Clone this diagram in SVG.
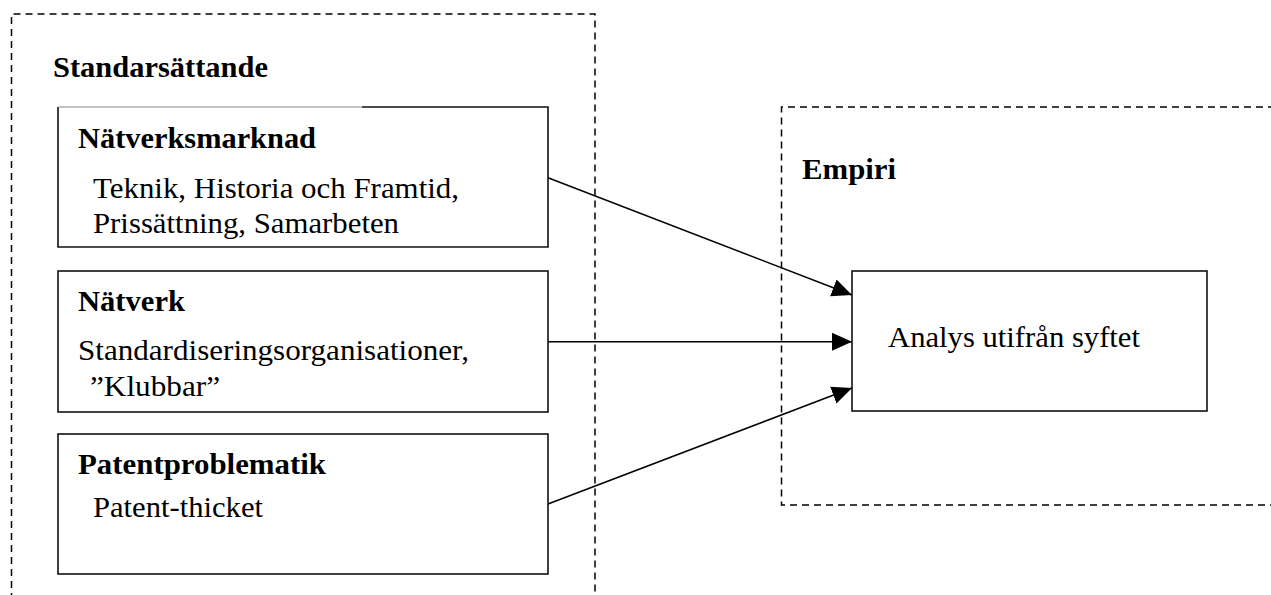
<svg xmlns="http://www.w3.org/2000/svg" width="1271" height="595" viewBox="0 0 1271 595">
<style>
  .dash { fill: none; stroke: #000; stroke-width: 1.5; stroke-dasharray: 7 5; }
  .box { fill: #fff; stroke: #111; stroke-width: 1.6; }
  .hd { font-family: "Liberation Serif", "Times New Roman", serif; font-weight: bold; font-size: 29px; fill: #000; }
  .tx { font-family: "Liberation Serif", "Times New Roman", serif; font-size: 30px; fill: #000; }
  .conn { fill: none; stroke: #000; stroke-width: 1.5; }
</style>
<defs>
  <marker id="arrow" markerUnits="userSpaceOnUse" markerWidth="20" markerHeight="20" viewBox="0 0 20 20" refX="20" refY="10" orient="auto">
    <path d="M0,1 L20,10 L0,19 Z" fill="#000"/>
  </marker>
</defs>
<rect width="1271" height="595" fill="#fff"/>

<g id="standarsattande">
  <path class="dash" d="M11.5,600 L11.5,14 L595,14 L595,600"/>
  <text class="hd" x="53" y="77" textLength="215" lengthAdjust="spacingAndGlyphs">Standarsättande</text>
</g>

<g id="empiri">
  <path class="dash" d="M1275,107 L781.5,107 L781.5,505 L1275,505"/>
  <text class="hd" x="802" y="179" textLength="94" lengthAdjust="spacingAndGlyphs">Empiri</text>
</g>

<g id="natverksmarknad">
  <rect x="58" y="107" width="490" height="140" fill="#fff" stroke="none"/>
  <path d="M362,107 L548,107 L548,247 L58,247 L58,107" fill="none" stroke="#111" stroke-width="1.6"/>
  <line x1="58" y1="107" x2="362" y2="107" stroke="#888" stroke-width="1.2"/>
  <text class="hd" x="78" y="148" textLength="238" lengthAdjust="spacingAndGlyphs">Nätverksmarknad</text>
  <text class="tx" x="93" y="198" textLength="366" lengthAdjust="spacingAndGlyphs">Teknik, Historia och Framtid,</text>
  <text class="tx" x="93" y="233" textLength="306" lengthAdjust="spacingAndGlyphs">Prissättning, Samarbeten</text>
</g>

<g id="natverk">
  <rect class="box" x="58" y="271" width="490" height="141"/>
  <text class="hd" x="78" y="311" textLength="107" lengthAdjust="spacingAndGlyphs">Nätverk</text>
  <text class="tx" x="78" y="360" textLength="391" lengthAdjust="spacingAndGlyphs">Standardiseringsorganisationer,</text>
  <text class="tx" x="90" y="396" textLength="130" lengthAdjust="spacingAndGlyphs">”Klubbar”</text>
</g>

<g id="patentproblematik">
  <rect class="box" x="58" y="434" width="490" height="140"/>
  <text class="hd" x="78" y="474" textLength="248" lengthAdjust="spacingAndGlyphs">Patentproblematik</text>
  <text class="tx" x="93" y="517" textLength="170" lengthAdjust="spacingAndGlyphs">Patent-thicket</text>
</g>

<g id="analys">
  <rect class="box" x="852" y="271" width="355" height="140"/>
  <text class="tx" x="888" y="347" textLength="252" lengthAdjust="spacingAndGlyphs">Analys utifrån syftet</text>
</g>

<g id="connectors">
  <line class="conn" x1="548" y1="177.7" x2="852" y2="295" marker-end="url(#arrow)"/>
  <line class="conn" x1="548" y1="341.7" x2="852" y2="341.7" marker-end="url(#arrow)"/>
  <line class="conn" x1="548" y1="504" x2="852" y2="388" marker-end="url(#arrow)"/>
</g>
</svg>
